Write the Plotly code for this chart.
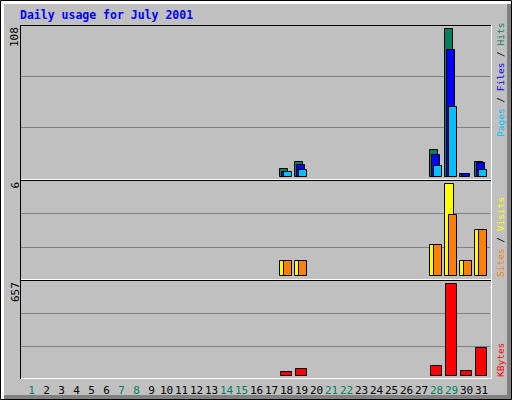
"""Webalizer style daily usage chart for July 2001."""

import plotly.graph_objects as go

DAYS = list(range(1, 32))
WEEKEND_DAYS = [1, 7, 8, 14, 15, 21, 22, 28, 29]

# daily totals (days without traffic are simply absent)
HITS = {18: 6, 19: 11, 28: 20, 29: 108, 30: 2, 31: 11}
FILES = {18: 4, 19: 9, 28: 16, 29: 93, 30: 2, 31: 10}
PAGES = {18: 4, 19: 5, 28: 8, 29: 51, 30: 0, 31: 5}
VISITS = {18: 1, 19: 1, 28: 2, 29: 6, 30: 1, 31: 3}
SITES = {18: 1, 19: 1, 28: 2, 29: 4, 30: 1, 31: 3}
KBYTES = {18: 24, 19: 48, 28: 70, 29: 657, 30: 34, 31: 198}

TITLE = "Daily usage for July 2001"

HIT_COLOR = "#00805C"
FILE_COLOR = "#0000FF"
PAGE_COLOR = "#00C0FF"
VISIT_COLOR = "#FFFF00"
SITE_COLOR = "#FF8000"
KBYTE_COLOR = "#FF0000"
BG = "#C0C0C0"
GRID = "#808080"

W, H = 512, 400


def px(x):
    return x / W


def py(y):
    return 1 - y / H


def series(d):
    # only days with a non-zero value get a bar
    days = [day for day in DAYS if d.get(day, 0) > 0]
    return days, [d[day] for day in days]


def yrange(maxval, zero_px, max_px, top_px, bottom_px):
    # value range so that 0 and maxval land on the given pixel rows
    k = (zero_px - max_px) / maxval
    return [-(bottom_px - zero_px) / k, (zero_px - top_px) / k]


fig = go.Figure()

bar_line = {"color": "black", "width": 1}

# hits / files / pages
for vals, color, off in (
    (HITS, HIT_COLOR, -0.4333),
    (FILES, FILE_COLOR, -0.3),
    (PAGES, PAGE_COLOR, -0.1667),
):
    xs, ys = series(vals)
    fig.add_trace(
        go.Bar(
            x=xs, y=ys, offset=off, width=0.5,
            marker={"color": color, "line": bar_line},
            xaxis="x", yaxis="y", showlegend=False, hoverinfo="skip",
        )
    )

# visits / sites
for vals, color, off, wd in (
    (VISITS, VISIT_COLOR, -0.4333, 0.567),
    (SITES, SITE_COLOR, -0.1667, 0.513),
):
    xs, ys = series(vals)
    fig.add_trace(
        go.Bar(
            x=xs, y=ys, offset=off, width=wd,
            marker={"color": color, "line": bar_line},
            xaxis="x2", yaxis="y2", showlegend=False, hoverinfo="skip",
        )
    )

# kbytes
xs, ys = series(KBYTES)
fig.add_trace(
    go.Bar(
        x=xs, y=ys, offset=-0.3667, width=0.713,
        marker={"color": KBYTE_COLOR, "line": bar_line},
        xaxis="x3", yaxis="y3", showlegend=False, hoverinfo="skip",
    )
)

ticktext = [
    f"<span style='color:{HIT_COLOR}'>{d}</span>" if d in WEEKEND_DAYS else str(d)
    for d in DAYS
]
xr = [1 + (20 - 31.5) / 15, 1 + (491 - 31.5) / 15]
xdom = [px(20), px(491)]

common_x = dict(
    range=xr, domain=xdom, showgrid=False, zeroline=False, showline=False,
    fixedrange=True,
)
common_y = dict(showgrid=False, zeroline=False, showline=False,
                showticklabels=False, fixedrange=True)

fig.update_layout(
    width=W,
    height=H,
    autosize=False,
    margin={"l": 0, "r": 0, "t": 0, "b": 0},
    paper_bgcolor=BG,
    plot_bgcolor=BG,
    barmode="overlay",
    bargap=0,
    font={"family": "DejaVu Sans Mono", "size": 10, "color": "black"},
    xaxis=dict(common_x, anchor="y", showticklabels=False),
    xaxis2=dict(common_x, anchor="y2", showticklabels=False),
    xaxis3=dict(
        common_x, anchor="y3", tickmode="array", tickvals=DAYS, ticktext=ticktext,
        ticks="", ticklabelstandoff=4,
        tickfont={"family": "DejaVu Sans Mono", "size": 11, "color": "black"},
        tickangle=0,
    ),
    yaxis=dict(common_y, anchor="x", domain=[py(179), py(25)],
               range=yrange(max(HITS.values()), 177, 29.4, 25, 179)),
    yaxis2=dict(common_y, anchor="x2", domain=[py(279), py(180)],
                range=yrange(max(VISITS.values()), 276, 184.3, 180, 279)),
    yaxis3=dict(common_y, anchor="x3", domain=[py(378), py(280)],
                range=yrange(max(KBYTES.values()), 375.7, 284, 280, 378)),
)

shapes = []


def rect(x0, y0, x1, y1, fill, layer="below"):
    shapes.append(dict(
        type="rect", xref="paper", yref="paper",
        x0=px(x0), y0=py(y0), x1=px(x1), y1=py(y1),
        fillcolor=fill, line={"width": 0}, layer=layer,
    ))


def hline(y, x0, x1, color, layer="below"):
    shapes.append(dict(
        type="line", xref="paper", yref="paper",
        x0=px(x0), y0=py(y), x1=px(x1), y1=py(y),
        line={"color": color, "width": 1}, layer=layer,
    ))


def vline(x, y0, y1, color, layer="below"):
    shapes.append(dict(
        type="line", xref="paper", yref="paper",
        x0=px(x), y0=py(y0), x1=px(x), y1=py(y1),
        line={"color": color, "width": 1}, layer=layer,
    ))


# bevelled frame
rect(0, 0, 512, 4, "white")
rect(0, 0, 4, 400, "white")
rect(4, 395, 512, 400, GRID)
rect(507, 4, 512, 400, GRID)
shapes.append(dict(
    type="rect", xref="paper", yref="paper", x0=px(0.5), y0=py(0.5),
    x1=px(511.5), y1=py(399.5), line={"color": "black", "width": 1},
    layer="above",
))

# gridlines
for gy in (76.5, 127.5, 213.5, 247.5, 313.5, 346.5):
    hline(gy, 21, 490, GRID)

# panel edges: black top/left, white bottom/right
for top, bottom in ((25.5, 179.5), (180.5, 279.5), (280.5, 378.5)):
    hline(top, 20, 491, "black", "above")
    hline(bottom, 20, 491, "white", "above")
vline(20.5, 25, 379, "black", "above")
vline(491.5, 25, 379, "white", "above")

fig.update_layout(shapes=shapes)


def side_label(parts, bottom_px):
    text = "".join(f"<span style='color:{c}'>{t}</span>" for t, c in parts)
    fig.add_annotation(
        text=text, xref="paper", yref="paper", x=px(500), y=py(bottom_px),
        xanchor="center", yanchor="bottom", textangle=-90, showarrow=False,
        font={"family": "DejaVu Sans Mono", "size": 9.5}, borderpad=0,
    )


side_label(
    [("Pages", PAGE_COLOR), (" / ", "black"), ("Files", FILE_COLOR),
     (" / ", "black"), ("Hits", HIT_COLOR)],
    138,
)
side_label([("Sites", SITE_COLOR), (" / ", "black"), ("Visits", VISIT_COLOR)], 278)
side_label([("KBytes", KBYTE_COLOR)], 378)

# maximum values on the left
for val, top_px in ((max(HITS.values()), 26), (max(VISITS.values()), 181),
                    (max(KBYTES.values()), 281)):
    fig.add_annotation(
        text=str(val), xref="paper", yref="paper", x=px(15), y=py(top_px),
        xanchor="center", yanchor="top", textangle=-90, showarrow=False,
        font={"family": "DejaVu Sans Mono", "size": 11, "color": "black"},
        borderpad=0,
    )

fig.add_annotation(
    text=f"<b>{TITLE}</b>", xref="paper", yref="paper", x=px(19), y=py(15),
    xanchor="left", yanchor="middle", showarrow=False,
    font={"family": "DejaVu Sans Mono", "size": 11.5, "color": "#0000FF"},
    borderpad=0,
)

# the page body margin would push the 512x400 figure out of the window
fig.write_html(
    "out.html",
    config={"displayModeBar": False},
    post_script="document.body.style.margin='0px';",
)
